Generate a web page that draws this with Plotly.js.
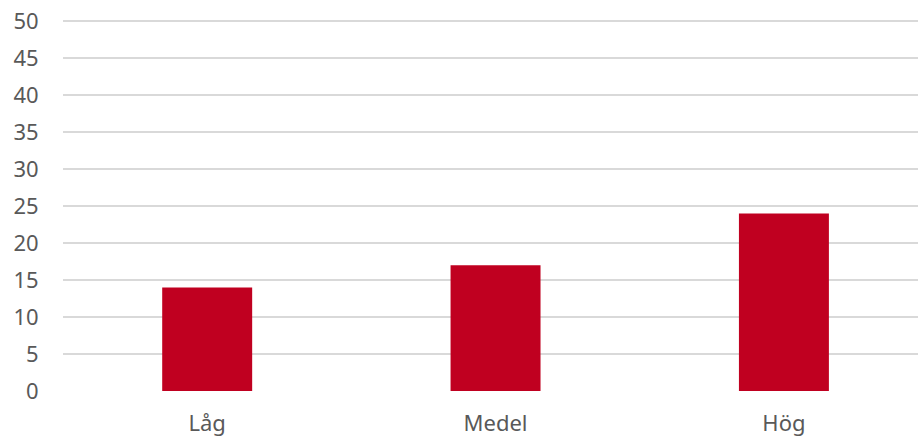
<!DOCTYPE html>
<html><head><meta charset="utf-8">
<script src="https://cdn.plot.ly/plotly-3.0.1.min.js"></script>
<style>html,body{margin:0;padding:0;background:#fff}#c{width:918px;height:437px}</style>
</head><body><div id="c"></div>
<script>
const categories = ["Låg", "Medel", "Hög"];
const values = [14, 17, 24];
const yTicks = [0, 5, 10, 15, 20, 25, 30, 35, 40, 45, 50];

Plotly.newPlot('c', [{
  type: 'bar', x: categories, y: values, width: 0.312,
  marker: {color: '#C00020'}, hoverinfo: 'none'
}], {
  width: 918, height: 437,
  margin: {l: 63, r: 0, t: 19, b: 46},
  paper_bgcolor: '#fff', plot_bgcolor: '#fff',
  font: {family: 'Noto Sans', size: 22, color: '#595959'},
  showlegend: false,
  xaxis: {range: [-0.5, 2.465], showgrid: false, zeroline: false, showline: false,
          ticks: 'outside', ticklen: 13, tickcolor: 'rgba(0,0,0,0)'},
  yaxis: {range: [0, 50.3], tickvals: yTicks, showgrid: true, gridcolor: '#d9d9d9', gridwidth: 1.5,
          zeroline: false, showline: false, ticks: 'outside', ticklen: 19, tickcolor: 'rgba(0,0,0,0)'}
}, {staticPlot: true});
</script></body></html>
